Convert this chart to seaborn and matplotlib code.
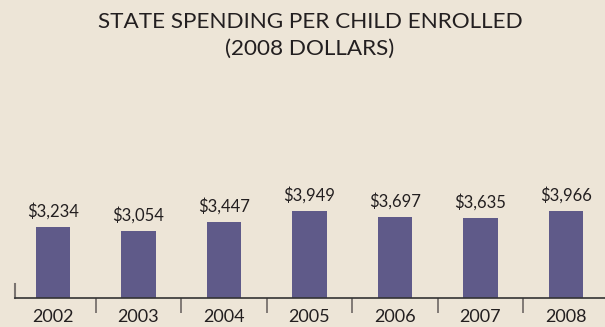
import matplotlib
matplotlib.use("Agg")
import matplotlib.pyplot as plt
import seaborn as sns
import pandas as pd
from matplotlib.ticker import FixedLocator

years = ["2002", "2003", "2004", "2005", "2006", "2007", "2008"]
spending = [3234, 3054, 3447, 3949, 3697, 3635, 3966]
labels = ["$3,234", "$3,054", "$3,447", "$3,949", "$3,697", "$3,635", "$3,966"]

df = pd.DataFrame({"year": years, "spending": spending})

bg = "#EDE5D7"
bar_color = "#5F5A89"
text_color = "#231F20"

sns.set_theme(style="white")
plt.rcParams["font.family"] = ["Lato", "DejaVu Sans"]

fig = plt.figure(figsize=(6.05, 3.27), dpi=100, facecolor=bg)
ax = fig.add_axes([15 / 605, 1 - 298 / 327, 590 / 605, 218 / 327])
ax.set_facecolor(bg)

sns.barplot(data=df, x="year", y="spending", color=bar_color, width=0.4,
            saturation=1, linewidth=0, edgecolor="none", ax=ax)

ax.set_xlim(-0.444, 6.456)
ax.set_ylim(0, 9932)

for i, (v, lab) in enumerate(zip(spending, labels)):
    ax.text(i, v + 330, lab, ha="center", va="bottom", fontsize=12,
            color=text_color)

for s in ["top", "right"]:
    ax.spines[s].set_visible(False)
ax.spines["bottom"].set_color("#333333")
ax.spines["bottom"].set_linewidth(1.2)
ax.spines["left"].set_color("#7A7370")
ax.spines["left"].set_linewidth(1.5)
ax.spines["left"].set_bounds(0, 640)

ax.set_yticks([])
ax.set_xlabel("")
ax.set_ylabel("")
ax.tick_params(axis="x", which="major", length=0, pad=8, labelsize=13,
               labelcolor=text_color)
ax.xaxis.set_minor_locator(FixedLocator([0.5, 1.5, 2.5, 3.5, 4.5, 5.5]))
ax.tick_params(axis="x", which="minor", direction="out", length=11,
               width=1.2, color="#6E6764", bottom=True)

fig.text(310 / 605, 1 - 21.5 / 327, "STATE SPENDING PER CHILD ENROLLED",
         ha="center", va="center", fontsize=16.2, color=text_color)
fig.text(310 / 605, 1 - 48.5 / 327, "(2008 DOLLARS)",
         ha="center", va="center", fontsize=16.2, color=text_color)

fig.savefig("out.png", dpi=100, facecolor=bg)
